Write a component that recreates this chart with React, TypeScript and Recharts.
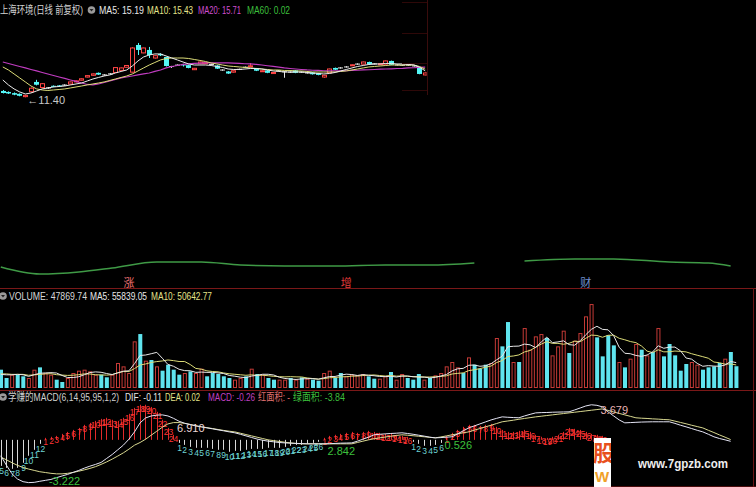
import React from "react";
import { ComposedChart, Bar, Line, XAxis, YAxis, ReferenceDot } from "recharts";

const FONT = '"Liberation Sans", "Noto Sans CJK SC", sans-serif';

// ---- price panel: 76 daily candles (上海环境, 前复权) ----
const candleOpen = [
  12.31, 12.17, 12.0, 11.9, 11.5, 12.2, 13.6, 12.8, 12.74, 13.05,
  13.1, 13.15, 13.3, 13.6, 13.85, 14.3, 14.55, 14.9, 14.6, 14.75,
  14.95, 15.25, 15.7, 15.0, 18.88, 17.75, 18.17, 17.02, 17.6, 17.17,
  15.8, 16.0, 16.1, 16.0, 15.35, 16.2, 16.2, 16.1, 15.95, 15.3,
  15.1, 15.0, 15.4, 15.7, 15.75, 15.55, 15.1, 15.25, 14.8, 15.2,
  15.05, 15.0, 15.25, 15.0, 14.88, 14.95, 14.85, 14.3, 14.9, 15.6,
  15.6, 15.74, 15.95, 16.15, 16.15, 16.45, 16.17, 16.1, 16.15, 16.6,
  16.02, 15.98, 16.0, 15.88, 15.6, 14.6,
];
const candleClose = [
  12.02, 11.95, 11.78, 11.62, 11.68, 12.7, 13.2, 13.35, 12.74, 12.9,
  12.95, 13.15, 13.6, 13.75, 14.05, 14.5, 14.75, 14.65, 14.6, 14.75,
  15.65, 15.6, 15.95, 18.45, 18.17, 18.45, 17.45, 17.35, 17.4, 15.88,
  15.8, 16.0, 16.0, 15.6, 15.55, 16.45, 16.35, 16.1, 15.5, 15.3,
  14.8, 15.2, 15.4, 15.7, 15.9, 15.2, 15.2, 14.9, 14.95, 15.2,
  15.05, 15.0, 14.9, 15.0, 14.88, 14.7, 14.6, 14.55, 15.45, 15.35,
  15.6, 15.74, 16.05, 16.15, 16.45, 16.1, 16.17, 16.2, 16.6, 16.05,
  16.02, 15.98, 16.0, 15.88, 14.74, 14.88,
];
const candleHigh = [
  12.45, 12.25, 12.1, 11.95, 11.75, 12.8, 13.9, 13.45, 12.85, 13.1,
  13.15, 13.25, 13.65, 13.8, 14.1, 14.55, 14.8, 14.95, 14.7, 14.85,
  15.7, 15.65, 16.0, 18.55, 19.17, 18.5, 18.6, 17.4, 17.7, 17.2,
  15.9, 16.1, 16.2, 16.05, 15.6, 16.5, 16.4, 16.2, 16.0, 15.4,
  15.15, 15.25, 15.5, 15.8, 16.3, 15.6, 15.25, 15.3, 15.0, 15.3,
  15.15, 15.1, 15.3, 15.1, 14.95, 15.0, 14.9, 14.6, 15.5, 15.65,
  15.7, 15.85, 16.1, 16.25, 16.5, 16.5, 16.25, 16.25, 16.65, 16.65,
  16.1, 16.05, 16.05, 15.95, 15.65, 14.95,
];
const candleLow = [
  11.95, 11.88, 11.7, 11.55, 11.4, 12.1, 13.1, 12.7, 12.62, 12.85,
  12.9, 13.05, 13.25, 13.55, 13.8, 14.25, 14.5, 14.6, 14.5, 14.65,
  14.9, 15.2, 15.65, 14.95, 17.45, 17.7, 17.02, 16.95, 17.3, 15.8,
  15.6, 15.9, 15.8, 15.55, 15.3, 16.15, 16.15, 16.0, 15.45, 15.2,
  14.75, 14.95, 15.3, 15.6, 15.7, 15.15, 15.05, 14.85, 14.75, 15.1,
  14.2, 14.9, 14.85, 14.9, 14.8, 14.65, 14.55, 14.2, 14.85, 15.3,
  15.5, 15.65, 15.9, 16.05, 16.1, 16.05, 16.1, 16.05, 16.1, 16.0,
  15.95, 15.9, 15.9, 15.8, 14.7, 14.55,
];
const priceMa5 = [
  13.88, 13.17, 12.6, 12.17, 11.88, 12.02, 12.31, 12.6, 12.74, 12.88,
  12.95, 13.02, 13.17, 13.31, 13.45, 13.74, 14.02, 14.24, 14.45, 14.6,
  14.88, 15.1, 15.31, 15.88, 16.6, 17.17, 17.45, 17.6, 17.6, 17.31,
  17.02, 16.74, 16.45, 16.17, 16.02, 16.02, 16.02, 15.95, 15.81, 15.67,
  15.45, 15.38, 15.38, 15.45, 15.52, 15.52, 15.45, 15.31, 15.17, 15.1,
  15.02, 15.02, 15.02, 15.02, 14.95, 14.88, 14.81, 14.74, 14.81, 14.95,
  15.17, 15.38, 15.6, 15.81, 15.95, 16.1, 16.17, 16.17, 16.24, 16.24,
  16.17, 16.17, 16.1, 16.02, 15.7, 15.19,
];
const priceMa10 = [
  15.74, 15.31, 14.74, 14.17, 13.6, 13.02, 12.6, 12.45, 12.38, 12.45,
  12.52, 12.6, 12.74, 12.88, 13.02, 13.17, 13.31, 13.45, 13.6, 13.81,
  14.02, 14.24, 14.45, 14.74, 15.17, 15.6, 16.02, 16.38, 16.74, 16.95,
  17.02, 17.02, 17.02, 16.95, 16.81, 16.67, 16.52, 16.31, 16.17, 16.02,
  15.88, 15.81, 15.74, 15.67, 15.6, 15.52, 15.45, 15.38, 15.31, 15.31,
  15.24, 15.24, 15.17, 15.17, 15.1, 15.02, 15.02, 15.02, 15.02, 15.02,
  15.1, 15.17, 15.31, 15.45, 15.6, 15.74, 15.81, 15.88, 15.95, 16.02,
  16.02, 16.02, 16.02, 16.02, 15.8, 15.43,
];
const priceMa20 = [
  16.45, 16.24, 16.02, 15.81, 15.6, 15.38, 15.17, 14.95, 14.74, 14.52,
  14.31, 14.1, 13.88, 13.67, 13.45, 13.24, 13.17, 13.31, 13.52, 13.74,
  13.95, 14.17, 14.31, 14.45, 14.6, 14.74, 14.88, 15.1, 15.31, 15.6,
  15.81, 15.95, 16.1, 16.17, 16.24, 16.28, 16.31, 16.31, 16.31, 16.31,
  16.31, 16.28, 16.24, 16.2, 16.17, 16.1, 16.02, 15.91, 15.81, 15.71,
  15.6, 15.52, 15.45, 15.38, 15.31, 15.27, 15.24, 15.2, 15.17, 15.17,
  15.17, 15.2, 15.24, 15.27, 15.31, 15.34, 15.38, 15.42, 15.45, 15.48,
  15.52, 15.55, 15.6, 15.63, 15.67, 15.71,
];
const lowMark = { i: 4, price: 11.4, text: "←11.40" };

// ---- long trend line in the upper panel and its signal words ----
const trendIdx = [1, 8, 15, 21, 29, 37, 44, 52, 61, 70, 78, 86, 90, 95, 104, 111, 121, 128, 132];
const trendVal = [13, 6, 8, 12, 18, 18, 15, 14, 14, 15, 15, 17, null, 19, 21, 21, 18, 17, 14];
const signals = [
  { i: 24, text: "涨", color: "#f07070" },
  { i: 63, text: "增", color: "#e03a3a" },
  { i: 106, text: "财", color: "#7090d0" },
];

// ---- volume panel: 133 sessions ----
const volume = [
  40300, 22000, 29300, 29300, 25700, 22000, 40300, 45400, 33000, 29300,
  18300, 13200, 22000, 33000, 38100, 40300, 36700, 29300, 29300, 23500,
  29300, 55000, 47600, 33000, 102600, 118700, 60100, 61600, 47600, 38100,
  51300, 40300, 29300, 33000, 36700, 33000, 42500, 25700, 33000, 30800,
  25700, 22000, 18300, 22000, 25700, 42500, 30800, 29300, 22000, 18300,
  18300, 18300, 22000, 18300, 23500, 20500, 18300, 16100, 33000, 38100,
  22000, 33000, 25700, 29300, 27900, 30800, 25700, 20500, 20500, 25700,
  35200, 18300, 30800, 22000, 18300, 30800, 18300, 22000, 27900, 33000,
  47600, 57200, 45400, 33000, 67400, 51300, 42500, 51300, 55000, 110000,
  91600, 145100, 57200, 57200, 131900, 84300, 113600, 118700, 110000, 71800,
  91600, 126100, 77000, 104100, 120900, 157600, 184700, 111400, 69600, 115800,
  93800, 57200, 45400, 64500, 96800, 84300, 71800, 79200, 131900, 69600,
  96800, 71800, 38100, 52800, 57200, 51300, 40300, 45400, 47600, 55000,
  64500, 79200, 47870,
];
// 1 = up day (red hollow), 0 = down day (cyan)
const volumeUp = [
  0, 0, 1, 0, 0, 1, 1, 0, 1, 1,
  0, 0, 1, 1, 1, 1, 1, 1, 0, 0,
  1, 1, 1, 1, 1, 0, 1, 0, 1, 0,
  0, 0, 0, 1, 0, 1, 1, 0, 0, 0,
  0, 0, 1, 1, 0, 1, 0, 1, 0, 0,
  1, 1, 0, 1, 0, 1, 0, 0, 1, 1,
  0, 0, 1, 1, 1, 1, 0, 0, 1, 1,
  0, 1, 1, 0, 0, 0, 1, 0, 1, 1,
  1, 1, 1, 0, 1, 0, 0, 0, 1, 1,
  0, 0, 1, 0, 1, 1, 1, 1, 0, 1,
  1, 1, 0, 1, 1, 1, 1, 0, 0, 0,
  0, 1, 0, 1, 1, 0, 1, 0, 1, 0,
  0, 0, 0, 0, 1, 1, 0, 0, 0, 0,
  1, 0, 0,
];
const volMa5 = [
  30000, 29000, 29000, 30000, 29200, 25600, 29200, 32400, 33200, 33800,
  33000, 27600, 23000, 23000, 24800, 29200, 34000, 35400, 34600, 31800,
  29600, 33200, 37000, 37800, 53600, 71600, 72600, 75400, 78400, 65400,
  51800, 47800, 41200, 38200, 38000, 34400, 35000, 34400, 34400, 33200,
  31800, 27600, 26000, 23800, 22800, 26200, 28000, 30200, 30200, 28600,
  23600, 21000, 19600, 18800, 20000, 20600, 20600, 19400, 22400, 25200,
  25400, 28400, 30400, 29600, 27600, 29400, 28000, 27000, 25400, 25000,
  25800, 24200, 26200, 26400, 24800, 24000, 24000, 22200, 23400, 26400,
  29800, 37600, 42200, 43200, 50000, 50600, 47800, 49000, 53400, 62000,
  70200, 90600, 91800, 92200, 96600, 95000, 88800, 101200, 111800, 99800,
  101400, 103800, 95400, 94200, 104000, 117200, 129000, 135800, 129000, 128000,
  115200, 89600, 76400, 75400, 71600, 69600, 72600, 79400, 92800, 87400,
  90000, 90000, 81800, 66000, 63400, 54200, 47800, 49200, 48200, 47800,
  50600, 58400, 55839,
];
const volMa10 = [
  31000, 31000, 30000, 30000, 30000, 28000, 29000, 30000, 31000, 31500,
  29300, 28400, 27700, 28100, 29300, 31100, 30800, 29200, 28800, 28300,
  29400, 33600, 36200, 36200, 42700, 50600, 52900, 56200, 58100, 59500,
  61700, 60200, 58300, 58300, 51700, 43100, 41400, 37800, 36300, 35600,
  33100, 31300, 30200, 29100, 28000, 29000, 27800, 28100, 27000, 25700,
  24900, 24500, 24900, 24500, 24300, 22100, 20800, 19500, 20600, 22600,
  23000, 24500, 24900, 26000, 26400, 27400, 28200, 28700, 27500, 26300,
  27600, 26100, 26600, 25900, 24900, 24900, 24100, 24200, 24900, 25600,
  26900, 30800, 32200, 33300, 38200, 40200, 42700, 45600, 48300, 56000,
  60400, 69200, 70400, 72800, 79300, 82600, 89700, 96500, 102000, 98200,
  98200, 96300, 98300, 103000, 101900, 109300, 116400, 115600, 111600, 116000,
  116200, 109300, 106100, 102200, 99800, 92400, 81100, 77900, 84100, 79500,
  79800, 81300, 80600, 79400, 75400, 72100, 68900, 65500, 57100, 55600,
  52400, 53100, 50643,
];

// ---- MACD panel ----
const dif = [
  -1.2, -1.9, -2.55, -2.95, -3.15, -3.22, -3.2, -3.12, -3.05, -2.98,
  -2.85, -2.72, -2.6, -2.45, -2.3, -2.13, -1.98, -1.85, -1.7, -1.4,
  -1.1, -0.75, -0.4, 0.05, 0.6, 1.28, 1.65, 1.8, 1.86, 1.88,
  1.8, 1.62, 1.4, 1.25, 1.15, 1.05, 0.98, 0.9, 0.83, 0.75,
  0.68, 0.6, 0.53, 0.42, 0.3, 0.18, 0.06, -0.03, -0.1, -0.15,
  -0.2, -0.23, -0.25, -0.27, -0.28, -0.3, -0.3, -0.3, -0.3, -0.29,
  -0.27, -0.25, -0.24, -0.23, -0.1, 0.05, 0.2, 0.38, 0.42, 0.45,
  0.48, 0.5, 0.53, 0.48, 0.42, 0.35, 0.28, 0.2, 0.15, 0.17,
  0.2, 0.23, 0.45, 0.68, 0.9, 1.05, 1.2, 1.35, 1.5, 1.62,
  1.73, 1.7, 1.68, 1.66, 1.8, 1.92, 2.03, 2.05, 2.06, 2.08,
  2.09, 2.1, 2.11, 2.25, 2.4, 2.55, 2.64, 2.6, 2.48, 2.11,
  1.8, 1.5, 1.28, 1.3, 1.32, 1.34, 1.35, 1.36, 1.36, 1.36,
  1.36, 1.24, 1.1, 0.98, 0.85, 0.72, 0.6, 0.42, 0.23, 0.1,
  0.0, -0.11,
];
const dea = [
  -1.3, -1.5, -1.72, -1.92, -2.08, -2.2, -2.3, -2.4, -2.46, -2.52,
  -2.56, -2.56, -2.52, -2.45, -2.36, -2.26, -2.15, -2.02, -1.85, -1.66,
  -1.45, -1.22, -0.98, -0.7, -0.4, -0.2, 0.05, 0.35, 0.65, 0.95,
  1.2, 1.3, 1.3, 1.24, 1.16, 1.06, 0.98, 0.92, 0.85, 0.78,
  0.71, 0.65, 0.6, 0.5, 0.4, 0.3, 0.2, 0.1, 0.0, -0.06,
  -0.12, -0.18, -0.23, -0.27, -0.3, -0.3, -0.3, -0.3, -0.3, -0.3,
  -0.3, -0.3, -0.3, -0.3, -0.2, -0.1, 0.0, 0.08, 0.15, 0.21,
  0.27, 0.33, 0.38, 0.35, 0.31, 0.27, 0.23, 0.19, 0.15, 0.22,
  0.3, 0.38, 0.45, 0.53, 0.6, 0.73, 0.85, 0.98, 1.1, 1.23,
  1.36, 1.42, 1.48, 1.55, 1.61, 1.67, 1.73, 1.78, 1.83, 1.88,
  1.93, 1.98, 2.03, 2.08, 2.13, 2.18, 2.23, 2.28, 2.33, 2.22,
  2.1, 1.99, 1.88, 1.77, 1.66, 1.63, 1.61, 1.58, 1.56, 1.53,
  1.51, 1.41, 1.31, 1.21, 1.1, 1.0, 0.9, 0.72, 0.55, 0.37,
  0.2, 0.02,
];
const macdHist = [
  -1.96, -2.11, -2.18, -2.11, -1.73, -1.2, -0.75, -0.3, 0.15, 0.23,
  0.3, 0.45, 0.6, 0.75, 0.9, 1.13, 1.28, 1.43, 1.58, 1.66,
  1.51, 1.43, 1.66, 1.96, 2.41, 2.64, 2.64, 2.48, 2.11, 1.51,
  0.9, 0.38, -0.23, -0.38, -0.53, -0.6, -0.6, -0.6, -0.68, -0.75,
  -0.75, -0.9, -0.83, -0.83, -0.75, -0.68, -0.68, -0.68, -0.6, -0.6,
  -0.6, -0.53, -0.45, -0.38, -0.38, -0.3, -0.23, -0.15, 0.15, 0.3,
  0.38, 0.45, 0.53, 0.6, 0.53, 0.6, 0.68, 0.6, 0.53, 0.45,
  0.45, 0.38, 0.3, 0.23, -0.15, -0.3, -0.45, -0.45, -0.38, -0.23,
  0.3, 0.53, 0.75, 0.98, 1.13, 1.13, 1.05, 1.13, 1.2, 0.98,
  0.75, 0.6, 0.6, 0.68, 0.75, 0.6, 0.38, 0.23, 0.15, 0.23,
  0.38, 0.6, 0.9, 0.83, 0.75, 0.6, 0.45, 0.38, 0.3,
];
const FIRST_RUN_START = 5; // the first visible run of bars is already at count 5
const macdNotes = [
  { i: 10, v: -3.09, text: "-3.222", color: "#3cc03c" },
  { i: 33, v: 0.9, text: "6.910", color: "#ecd6d6" },
  { i: 60, v: -0.83, text: "2.842", color: "#3cc03c" },
  { i: 81, v: -0.38, text: "0.526", color: "#3cc03c" },
  { i: 109, v: 2.26, text: "3.679", color: "#e9b4b4" },
];

// consecutive-bar counters printed on the histogram
const histCount: number[] = [];
macdHist.forEach((v, k) => {
  if (k === 0) histCount.push(FIRST_RUN_START);
  else {
    const same = (v > 0) === (macdHist[k - 1] > 0);
    histCount.push(same ? histCount[k - 1] + 1 : 1);
  }
});

const priceRows = candleOpen.map((o, i) => ({
  i,
  o,
  c: candleClose[i],
  h: candleHigh[i],
  l: candleLow[i],
  ma5: priceMa5[i],
  ma10: priceMa10[i],
  ma20: priceMa20[i],
}));

const lowerRows = volume.map((v, k) => ({
  i: k + 1,
  vol: v,
  up: volumeUp[k],
  vma5: volMa5[k],
  vma10: volMa10[k],
  dif: k < dif.length ? dif[k] : null,
  dea: k < dea.length ? dea[k] : null,
  hist: k < macdHist.length ? macdHist[k] : null,
  cnt: k < histCount.length ? histCount[k] : null,
}));

const trendRows = trendIdx.map((i, k) => ({ i, v: trendVal[k] }));

const Candle = (props: any) => {
  const { x, y, width, height, payload } = props;
  const { o, c, h, l } = payload;
  const cx = Math.round(x + width / 2) + 0.5;
  const k = height / (h - l);
  const yo = y + (h - o) * k;
  const yc = y + (h - c) * k;
  if (c > o) {
    return (
      <g>
        <line x1={cx} x2={cx} y1={y} y2={y + height} stroke="#ff4646" />
        <rect x={cx - 2} y={yc} width={4} height={Math.max(yo - yc, 1)} fill="#000" stroke="#ff4646" />
      </g>
    );
  }
  if (c < o) {
    return (
      <g>
        <line x1={cx} x2={cx} y1={y} y2={y + height} stroke="#54f6f6" />
        <rect x={cx - 2.5} y={yo} width={5} height={Math.max(yc - yo, 1)} fill="#54f6f6" />
      </g>
    );
  }
  return (
    <g>
      <line x1={cx} x2={cx} y1={y} y2={y + height} stroke="#e6e6e6" />
      <line x1={cx - 2.5} x2={cx + 2.5} y1={yo} y2={yo} stroke="#e6e6e6" />
    </g>
  );
};

const VolBar = (props: any) => {
  const { x, y, width, height, payload } = props;
  if (payload.up) {
    return <rect x={x + 0.5} y={y + 0.5} width={width - 1} height={Math.max(height - 1, 0)} fill="none" stroke="#c43a36" />;
  }
  return <rect x={x} y={y} width={width} height={height} fill="#5fe4ee" />;
};

const HistStick = (props: any) => {
  const { x, y, width, height, payload } = props;
  if (payload.hist == null) return <g />;
  const cx = Math.round(x + width / 2) + 0.5;
  const top = Math.min(y, y + height);
  const bot = Math.max(y, y + height);
  const pos = payload.hist > 0;
  const tip = pos ? top : bot;
  const base = pos ? bot : top;
  return (
    <g>
      <line x1={cx} x2={cx} y1={base} y2={tip} stroke={pos ? "#e02a2a" : "#d8d8d8"} />
      <text
        x={cx}
        y={pos ? tip + 7 : tip + 8}
        textAnchor="middle"
        fontSize={8.5}
        fontFamily={FONT}
        fill={pos ? "#ff3434" : "#6ed4d4"}
      >
        {payload.cnt}
      </text>
    </g>
  );
};

const HeadText = ({ x, y, w, fill, children }: any) => (
  <text x={x} y={y} textLength={w} lengthAdjust="spacingAndGlyphs" fill={fill} fontSize={11} fontFamily={FONT}>
    {children}
  </text>
);

const Knob = ({ cx, cy }: any) => (
  <g>
    <circle cx={cx} cy={cy} r={3.8} fill="#9a9a9a" />
    <path d={`M${cx - 2} ${cy - 1} L${cx + 2} ${cy - 1} L${cx} ${cy + 1.5} Z`} fill="#222" />
  </g>
);

const M = { top: 0, right: 0, bottom: 0, left: 0 };

export default function App() {
  return (
    <div
      style={{
        position: "absolute",
        left: 0,
        top: 0,
        width: 756,
        height: 487,
        background: "#000",
        overflow: "hidden",
        fontFamily: FONT,
      }}
    >
      {/* candles + price MAs */}
      <div style={{ position: "absolute", left: 0, top: 20 }}>
        <ComposedChart width={428} height={90} data={priceRows} margin={M}>
          <XAxis dataKey="i" hide />
          <YAxis hide domain={[9.59, 22.45]} allowDataOverflow />
          <Bar dataKey={(d: any) => [d.l, d.h]} barSize={5} shape={<Candle />} isAnimationActive={false} />
          <Line dataKey="ma20" stroke="#c03cc0" strokeWidth={1.2} dot={false} activeDot={false} isAnimationActive={false} />
          <Line dataKey="ma10" stroke="#dcdc78" strokeWidth={1} dot={false} activeDot={false} isAnimationActive={false} />
          <Line dataKey="ma5" stroke="#ececec" strokeWidth={1} dot={false} activeDot={false} isAnimationActive={false} />
          <ReferenceDot
            x={lowMark.i}
            y={lowMark.price}
            r={0}
            shape={(p: any) => (
              <text x={p.cx + 2} y={p.cy + 7} fontSize={11} fontFamily={FONT} fill="#c8c8c8">
                {lowMark.text}
              </text>
            )}
          />
        </ComposedChart>
      </div>

      {/* trend line + signal words */}
      <div style={{ position: "absolute", left: -2, top: 250 }}>
        <ComposedChart width={741} height={40} data={trendRows} margin={M}>
          <XAxis dataKey="i" type="number" domain={[0.5, 133.5]} hide allowDataOverflow />
          <YAxis hide domain={[-10, 30]} allowDataOverflow />
          <Line dataKey="v" type="monotone" stroke="#3f9a46" strokeWidth={1.5} dot={false} activeDot={false} connectNulls={false} isAnimationActive={false} />
          {signals.map((s) => (
            <ReferenceDot
              key={s.text}
              x={s.i}
              y={-3}
              r={0}
              shape={(p: any) => (
                <text x={p.cx} y={p.cy} textAnchor="middle" dominantBaseline="central" fontSize={11} fontFamily={FONT} fill={s.color}>
                  {s.text}
                </text>
              )}
            />
          ))}
        </ComposedChart>
      </div>

      {/* volume */}
      <div style={{ position: "absolute", left: -2, top: 300 }}>
        <ComposedChart width={741} height={88} data={lowerRows} margin={M}>
          <XAxis dataKey="i" hide />
          <YAxis hide domain={[0, 193600]} allowDataOverflow />
          <Bar dataKey="vol" barSize={4} shape={<VolBar />} isAnimationActive={false} />
          <Line dataKey="vma10" stroke="#dcdc78" strokeWidth={1} dot={false} activeDot={false} isAnimationActive={false} />
          <Line dataKey="vma5" stroke="#e8e8e8" strokeWidth={1} dot={false} activeDot={false} isAnimationActive={false} />
        </ComposedChart>
      </div>

      {/* MACD */}
      <div style={{ position: "absolute", left: -2, top: 400 }}>
        <ComposedChart width={741} height={87} data={lowerRows} margin={M}>
          <XAxis dataKey="i" hide />
          <YAxis hide domain={[-3.55, 3.0]} allowDataOverflow />
          <Bar dataKey="hist" barSize={1} shape={<HistStick />} isAnimationActive={false} />
          <Line dataKey="dea" stroke="#d8d890" strokeWidth={1} dot={false} activeDot={false} isAnimationActive={false} />
          <Line dataKey="dif" stroke="#e4e4f4" strokeWidth={1} dot={false} activeDot={false} isAnimationActive={false} />
          {macdNotes.map((n) => (
            <ReferenceDot
              key={n.text}
              x={n.i}
              y={n.v}
              r={0}
              shape={(p: any) => (
                <text x={p.cx - 2} y={p.cy} dominantBaseline="central" fontSize={11} fontFamily={FONT} fill={n.color}>
                  {n.text}
                </text>
              )}
            />
          ))}
        </ComposedChart>
      </div>

      {/* headers, frame lines, watermark */}
      <svg width={756} height={487} style={{ position: "absolute", left: 0, top: 0, pointerEvents: "none" }}>
        <defs>
          <clipPath id="wm">
            <rect x={594} y={438} width={17} height={49} />
          </clipPath>
        </defs>
        <line x1={0} x2={756} y1={288.5} y2={288.5} stroke="#7a1818" />
        <line x1={0} x2={756} y1={390.5} y2={390.5} stroke="#7a1818" />
        <line x1={0} x2={756} y1={486.5} y2={486.5} stroke="#4a0c0c" />
        <line x1={753.5} x2={753.5} y1={288} y2={487} stroke="#6a1414" />
        <line x1={427.5} x2={427.5} y1={0} y2={95} stroke="#3a0c0c" />
        {[2.5, 33.5, 63.5, 90.5].map((y) => (
          <line key={y} x1={402} x2={427} y1={y} y2={y} stroke="#2e0808" />
        ))}

        <HeadText x={0} y={14} w={83} fill="#d2d2d2">上海环境(日线 前复权)</HeadText>
        <Knob cx={91.5} cy={10} />
        <HeadText x={99} y={14} w={45} fill="#e8e8e8">MA5: 15.19</HeadText>
        <HeadText x={147} y={14} w={46} fill="#e4e48a">MA10: 15.43</HeadText>
        <HeadText x={198} y={14} w={43} fill="#d04ed0">MA20: 15.71</HeadText>
        <HeadText x={247} y={14} w={43} fill="#3cbf3c">MA60: 0.02</HeadText>

        <Knob cx={3} cy={296} />
        <HeadText x={9} y={300} w={78} fill="#d8d8d8">VOLUME: 47869.74</HeadText>
        <HeadText x={90} y={300} w={57} fill="#e8e8e8">MA5: 55839.05</HeadText>
        <HeadText x={151} y={300} w={61} fill="#e4e48a">MA10: 50642.77</HeadText>

        <Knob cx={3} cy={397} />
        <HeadText x={8} y={401} w={111} fill="#d0d0d0">学赚的MACD(6,14,95,95,1,2)</HeadText>
        <HeadText x={125} y={401} w={37} fill="#e8e8e8">DIF: -0.11</HeadText>
        <HeadText x={165} y={401} w={35} fill="#e4e48a">DEA: 0.02</HeadText>
        <HeadText x={208} y={401} w={47} fill="#c040c0">MACD: -0.26</HeadText>
        <HeadText x={258} y={401} w={32} fill="#e07070">红面积: -</HeadText>
        <HeadText x={293} y={401} w={52} fill="#3cbf3c">绿面积: -3.84</HeadText>

        <rect x={594} y={438} width={17} height={49} fill="#ffffff" />
        <g clipPath="url(#wm)">
          <text x={593} y={461} fontSize={22} fontWeight="bold" fontFamily={FONT} fill="#e8501c">股</text>
          <text x={595} y={482} fontSize={15} fontWeight="bold" fontFamily={FONT} fill="#f0a028">W</text>
        </g>
        <text x={638} y={468} textLength={90} lengthAdjust="spacingAndGlyphs" fontSize={13} fontWeight="bold" fontFamily={FONT} fill="#eeeeee">
          www.7gpzb.com
        </text>
      </svg>
    </div>
  );
}
